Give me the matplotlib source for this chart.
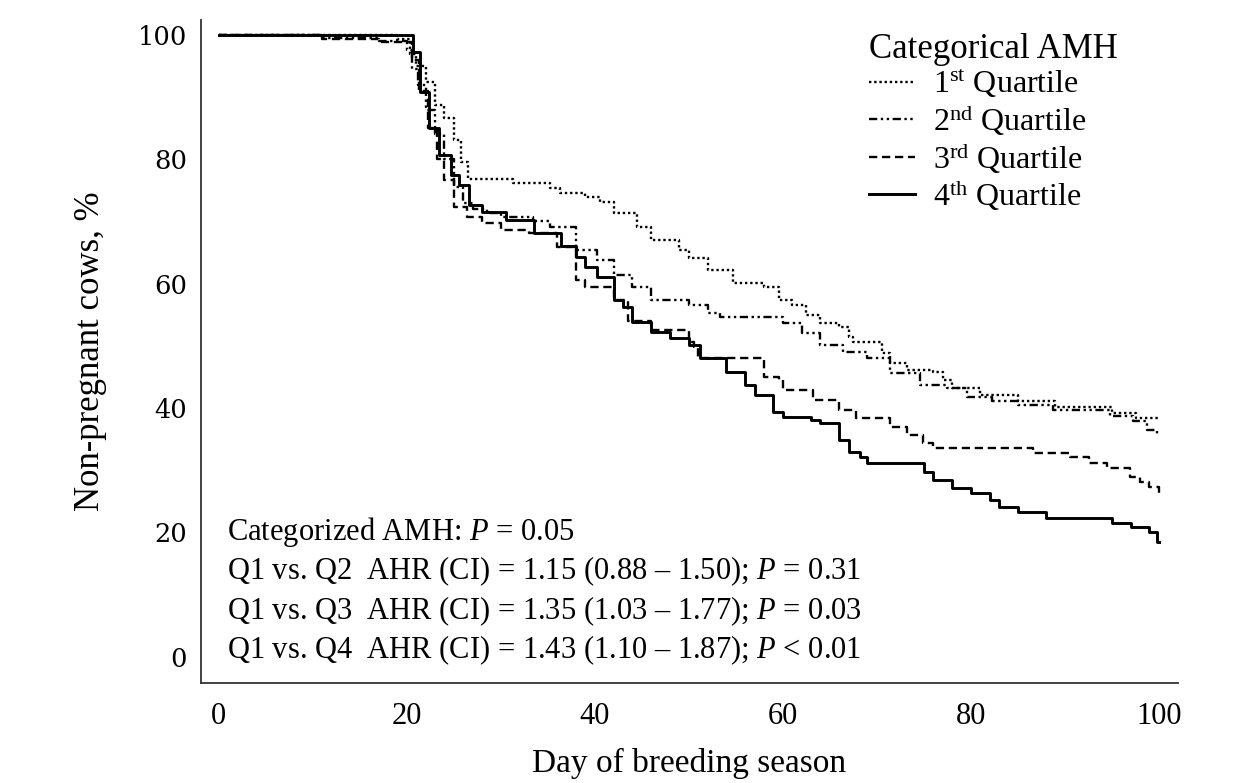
import numpy as np
import matplotlib
matplotlib.use('Agg')
import matplotlib.pyplot as plt

plt.rcParams['font.family'] = ['Liberation Serif', 'DejaVu Serif']
plt.rcParams['mathtext.fontset'] = 'custom'
plt.rcParams['mathtext.rm'] = 'Liberation Serif'
plt.rcParams['mathtext.it'] = 'Liberation Serif:italic'

# Kaplan-Meier curves (day, % non-pregnant)
q1_day = [0, 19, 20.3, 21, 22, 23, 24, 25, 25.8, 26.5, 31.3, 35.2, 36.3, 39, 40.5, 42, 44.5, 46, 49, 50,
          52, 54.7, 58, 59.6, 61, 62.5, 64, 66, 67, 67.5, 70.6, 71.4, 73.2, 76, 77, 78, 81, 85, 89, 95,
          97.6, 100]
q1_pct = [100, 99.4, 97, 95, 92.4, 88.7, 86.7, 83.1, 79.6, 76.8, 76.2, 75.4, 74.6, 74, 73.2, 71.4, 69.1, 67, 65.4, 64.1,
          62.2, 60.1, 59.5, 57.4, 56.6, 55, 53.7, 53, 51.4, 50.6, 48.9, 47.3, 46.1, 45.8, 44.5, 43.2, 42.1, 41.2, 40.2, 39.2,
          38.4, 38.4]

q2_day = [0, 11, 17, 20, 20.5, 21.2, 22, 23, 24, 25, 26, 27, 28.5, 30, 33.4, 35.2, 38, 40.2, 42, 44,
          46, 50, 52, 53.3, 60, 62, 64, 66.4, 69, 71.4, 74.6, 77.5, 79.6, 82.3, 85, 88.7, 94.8, 97.2, 98.7, 99.8,
          100]
q2_pct = [100, 99.5, 99, 97.5, 94.5, 92, 88, 84, 80, 75.5, 73, 72, 71.3, 70.7, 70.1, 69.1, 65.4, 63.8, 61.4, 59.5,
          57.4, 56.6, 55.3, 54.7, 53.7, 52.1, 50.2, 49, 48.1, 45.7, 43.7, 43.2, 41.8, 41.2, 40.5, 39.7, 38.8, 38, 36.5, 35.7,
          35.7]

q3_day = [0, 11, 17, 20.5, 21.3, 22.3, 23.2, 24, 25, 26.4, 28, 30, 33, 36, 38, 39, 42, 43.5, 46, 50,
          50.5, 51, 58, 59.6, 60, 63.2, 66, 67.8, 71.4, 73.2, 74.9, 76, 86.6, 90.5, 92.6, 94.5, 96.9, 98, 99, 100]
q3_pct = [100, 99.4, 98.8, 96, 91, 85, 80, 76.7, 72.3, 70.7, 69.8, 68.6, 68.2, 65.9, 60.6, 59.5, 57.4, 54, 52.6, 50.6,
          49.8, 48.1, 45, 44.5, 42.9, 41.3, 39.7, 38.4, 37, 35.7, 34.4, 33.6, 32.8, 32.2, 31.2, 30.4, 28.9, 28.1, 27.3, 26.4]

q4_day = [0, 20.7, 21.4, 22.4, 23.4, 24.7, 25.5, 26.6, 28, 30.6, 33.5, 36.4, 38, 39, 40.2, 42, 43, 44, 46, 48,
          50, 51.2, 54, 56, 57, 59, 60, 63, 64, 66, 67, 68.2, 69, 75, 76, 78, 80, 82, 83, 85,
          88, 95, 97, 99, 99.8, 100]
q4_pct = [100, 97.2, 90.8, 85, 80.7, 77.5, 75.9, 72.7, 71.5, 70.3, 68.2, 66, 64.3, 62.7, 61, 57.4, 56.3, 53.9, 52.3, 51.3,
          50.2, 48.1, 45.8, 43.7, 42.1, 39.4, 38.6, 38.1, 37.6, 34.8, 33, 32.2, 31.2, 29.7, 28.5, 27.2, 26.3, 25.2, 24.1, 23.3,
          22.3, 21.5, 20.9, 20.1, 18.5, 18.5]

labels = ['1$^{\\rm st}$ Quartile', '2$^{\\rm nd}$ Quartile',
          '3$^{\\rm rd}$ Quartile', '4$^{\\rm th}$ Quartile']

stats_lines = ['Categorized AMH: $\\mathit{P}$ = 0.05',
               'Q1 vs. Q2  AHR (CI) = 1.15 (0.88 \u2013 1.50); $\\mathit{P}$ = 0.31',
               'Q1 vs. Q3  AHR (CI) = 1.35 (1.03 \u2013 1.77); $\\mathit{P}$ = 0.03',
               'Q1 vs. Q4  AHR (CI) = 1.43 (1.10 \u2013 1.87); $\\mathit{P}$ < 0.01']

fig = plt.figure(figsize=(12.37, 7.83), dpi=100)
ax = fig.add_axes([0.1625, 0.1277, 0.7895, 0.8468])

ax.plot(q1_day, q1_pct, drawstyle='steps-post', color='black', lw=1.7,
        linestyle=(0, (1, 1.2)), label=labels[0])
ax.plot(q2_day, q2_pct, drawstyle='steps-post', color='black', lw=1.7,
        linestyle=(0, (3.5, 1.5, 1, 1.5, 1, 1.5)), label=labels[1])
ax.plot(q3_day, q3_pct, drawstyle='steps-post', color='black', lw=1.7,
        linestyle=(0, (3.5, 2)), label=labels[2])
ax.plot(q4_day, q4_pct, drawstyle='steps-post', color='black', lw=2.1,
        label=labels[3])

ax.set_xlim(-1.9, 102)
ax.set_ylim(-4.2, 102.4)
ax.set_xticks([0, 20, 40, 60, 80, 100])
ax.set_yticks([0, 20, 40, 60, 80, 100])
ax.tick_params(axis='both', length=0)
ax.tick_params(axis='x', pad=14, labelsize=22)
ax.tick_params(axis='y', pad=10, labelsize=18.5)
for t in ax.get_yticklabels():
    t.set_fontfamily('DejaVu Serif')

for s in ['top', 'right']:
    ax.spines[s].set_visible(False)
for s in ['left', 'bottom']:
    ax.spines[s].set_color('#333333')
    ax.spines[s].set_linewidth(1.3)

ax.set_xlabel('Day of breeding season', fontsize=24, labelpad=12)
ax.set_ylabel('Non-pregnant cows, %', fontsize=25, labelpad=22)

leg = ax.legend(title='Categorical AMH', loc='upper left', bbox_to_anchor=(0.664, 1.01),
                frameon=False, fontsize=23, title_fontsize=25, handlelength=1.45,
                handletextpad=0.55, labelspacing=0.07, borderpad=0.1)
leg._legend_box.align = 'left'

for i, line in enumerate(stats_lines):
    ax.text(0.9, 20 - i * 6.3, line, fontsize=22, va='center', ha='left')

fig.savefig('out.png', dpi=100)
